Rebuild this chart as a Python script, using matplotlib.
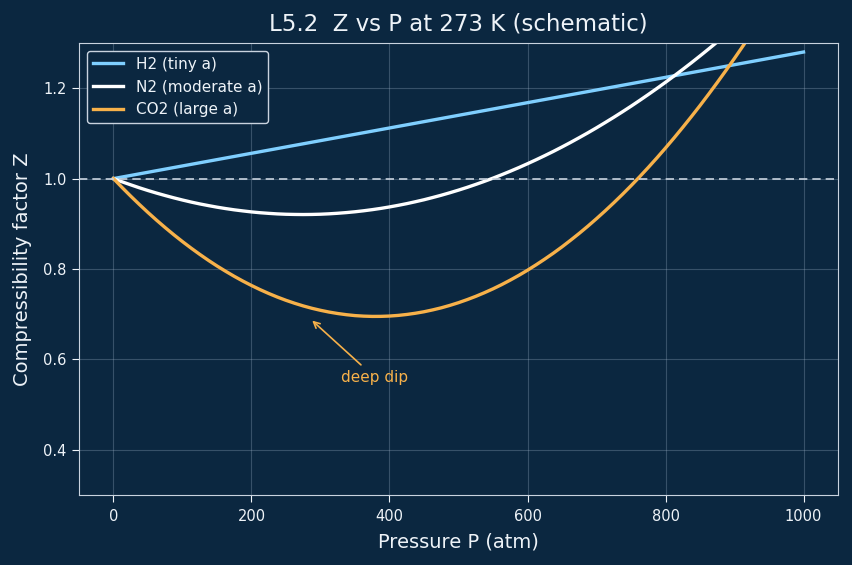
import matplotlib
matplotlib.use("Agg")
import matplotlib.pyplot as plt

# H2 is a straight line on the chart
p_h2 = [0, 250, 500, 750, 1000]
z_h2 = [1.000, 1.070, 1.140, 1.210, 1.280]

# pressure grid (atm) for the curved gases, Z values
pressure = [0, 12.5, 25, 37.5, 50, 62.5, 75, 87.5, 100, 112.5, 125, 137.5, 150,
            162.5, 175, 187.5, 200, 212.5, 225, 237.5, 250, 262.5, 275, 287.5, 300,
            312.5, 325, 337.5, 350, 362.5, 375, 387.5, 400, 412.5, 425, 437.5, 450,
            462.5, 475, 487.5, 500, 512.5, 525, 537.5, 550, 562.5, 575, 587.5, 600,
            612.5, 625, 637.5, 650, 662.5, 675, 687.5, 700, 712.5, 725, 737.5, 750,
            762.5, 775, 787.5, 800, 812.5, 825, 837.5, 850, 862.5, 875, 887.5, 900,
            912.5, 925, 937.5, 950, 962.5, 975, 987.5, 1000]

z_n2 = [1.000, 0.9929, 0.9862, 0.9797, 0.9736, 0.9679, 0.9625, 0.9574, 0.9526,
        0.9481, 0.9440, 0.9403, 0.9368, 0.9337, 0.9309, 0.9285, 0.9263, 0.9245,
        0.9231, 0.9219, 0.9211, 0.9207, 0.9205, 0.9207, 0.9212, 0.9221, 0.9233,
        0.9248, 0.9266, 0.9288, 0.9313, 0.9341, 0.9373, 0.9408, 0.9446, 0.9488,
        0.9532, 0.9581, 0.9632, 0.9687, 0.9745, 0.9806, 0.9871, 0.9939, 1.0010,
        1.0085, 1.0163, 1.0244, 1.0329, 1.0417, 1.0508, 1.0602, 1.0700, 1.0801,
        1.0906, 1.1013, 1.1124, 1.1239, 1.1356, 1.1477, 1.1601, 1.1729, 1.1860,
        1.1994, 1.2131, 1.2272, 1.2416, 1.2563, 1.2714, 1.2868, 1.3025, 1.3186,
        1.3350, 1.3517, 1.3688, 1.3861, 1.4038, 1.4219, 1.4403, 1.4590, 1.4780]

z_co2 = [1.000, 0.9803, 0.9612, 0.9428, 0.9250, 0.9079, 0.8915, 0.8757, 0.8606,
         0.8462, 0.8324, 0.8192, 0.8067, 0.7950, 0.7838, 0.7733, 0.7635, 0.7543,
         0.7458, 0.7379, 0.7307, 0.7242, 0.7183, 0.7131, 0.7086, 0.7047, 0.7015,
         0.6989, 0.6969, 0.6957, 0.6951, 0.6952, 0.6959, 0.6973, 0.6994, 0.7021,
         0.7054, 0.7095, 0.7141, 0.7195, 0.7255, 0.7322, 0.7395, 0.7475, 0.7561,
         0.7654, 0.7754, 0.7860, 0.7973, 0.8093, 0.8219, 0.8351, 0.8490, 0.8637,
         0.8789, 0.8948, 0.9114, 0.9286, 0.9465, 0.9650, 0.9842, 1.0041, 1.0246,
         1.0458, 1.0677, 1.0902, 1.1134, 1.1372, 1.1616, 1.1868, 1.2126, 1.2391,
         1.2662, 1.2940, 1.3225, 1.3516, 1.3813, 1.4118, 1.4431, 1.4746, 1.5070]

bg = "#0b2740"
fg = "#eef3f8"

fig = plt.figure(figsize=(8.52, 5.65), dpi=100, facecolor=bg)
ax = fig.add_axes([0.0927, 0.1239, 0.8909, 0.8000])
ax.set_facecolor(bg)

ax.plot(p_h2, z_h2, color="#7fcfff", lw=2.4, label="H2 (tiny a)")
ax.plot(pressure, z_n2, color="white", lw=2.4, label="N2 (moderate a)")
ax.plot(pressure, z_co2, color="#f7b14a", lw=2.4, label="CO2 (large a)")
ax.axhline(1.0, color="#c9d3df", lw=1.2, ls=(0, (5, 3)))

ax.annotate("deep dip", xy=(285, 0.69), xytext=(378, 0.561),
            ha="center", va="center", color="#f7b14a", fontsize=11,
            arrowprops=dict(arrowstyle="->", color="#f7b14a", lw=1.2))

ax.set_xlim(-50, 1050)
ax.set_ylim(0.3, 1.3)
ax.set_xticks([0, 200, 400, 600, 800, 1000])
ax.set_yticks([0.4, 0.6, 0.8, 1.0, 1.2])
ax.grid(True, color="#9fb3c8", alpha=0.3, lw=0.8)

ax.set_title("L5.2  Z vs P at 273 K (schematic)", color=fg, fontsize=16.5, pad=9)
ax.set_xlabel("Pressure P (atm)", color=fg, fontsize=14, labelpad=6.5)
ax.set_ylabel("Compressibility factor Z", color=fg, fontsize=14, labelpad=8)
ax.tick_params(colors=fg, labelsize=10.5, length=5, pad=5)
ax.tick_params(axis="y", pad=4)
for s in ax.spines.values():
    s.set_color("#c9d3df")

leg = ax.legend(loc="upper left", fontsize=11, facecolor=bg, edgecolor="#c9d3df",
                framealpha=1.0)
for t in leg.get_texts():
    t.set_color(fg)

fig.savefig("out.png", dpi=100, facecolor=bg)
